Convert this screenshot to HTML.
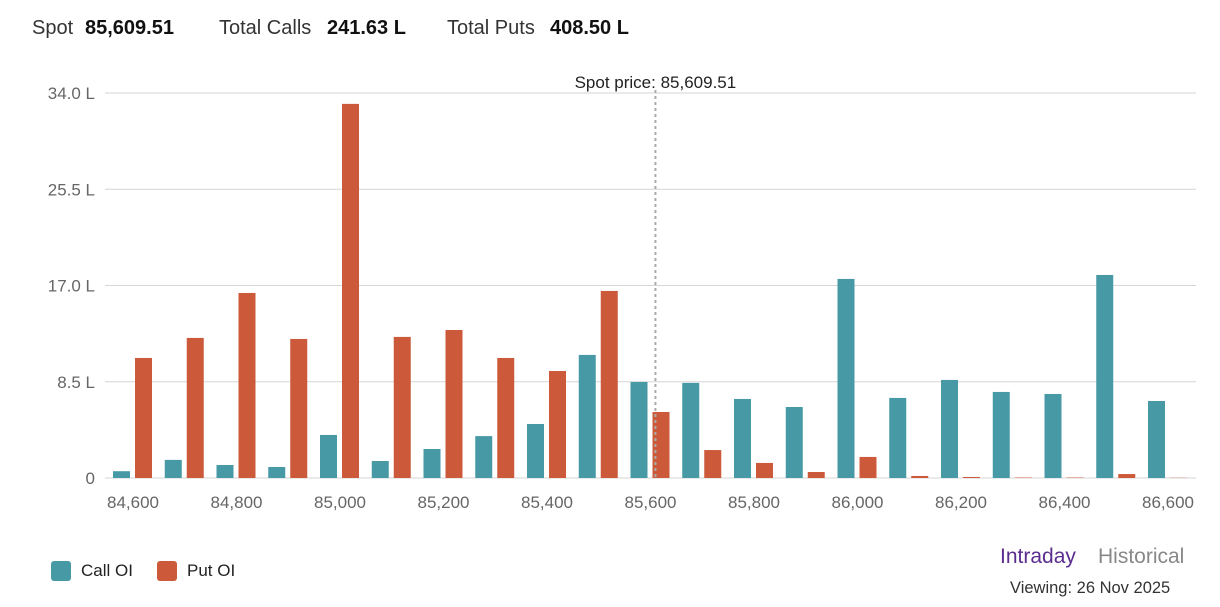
<!DOCTYPE html>
<html><head><meta charset="utf-8"><style>
body{margin:0;width:1220px;height:607px;background:#fff;font-family:"Liberation Sans",sans-serif;overflow:hidden;position:relative}
.h{position:absolute;top:17px;font-size:20px;color:#333;white-space:nowrap}
.h b{color:#111}
.leg{position:absolute;top:561px;font-size:17px;color:#222;display:flex;align-items:center}
.sw{width:20px;height:20px;border-radius:3px;margin-right:10px}
</style></head><body>
<div>
<div class="h" style="left:32px">Spot</div>
<div class="h" style="left:85px"><b>85,609.51</b></div>
<div class="h" style="left:219px">Total Calls</div>
<div class="h" style="left:327px"><b>241.63 L</b></div>
<div class="h" style="left:447px">Total Puts</div>
<div class="h" style="left:550px"><b>408.50 L</b></div>
</div>
<svg id="chart" width="1220" height="607" style="position:absolute;left:0;top:0"></svg>
<div class="leg" style="left:51px"><div class="sw" style="background:#4799a5"></div>Call OI</div>
<div class="leg" style="left:157px"><div class="sw" style="background:#cc5a3a"></div>Put OI</div>
<div style="position:absolute;left:1000px;top:545px;font-size:21px;color:#5b2d8e">Intraday</div>
<div style="position:absolute;left:1098px;top:545px;font-size:21px;color:#888">Historical</div>
<div style="position:absolute;left:1010px;top:579px;font-size:16.5px;color:#333">Viewing: 26 Nov 2025</div>
<script>
const strikes=[84600,84700,84800,84900,85000,85100,85200,85300,85400,85500,85600,85700,85800,85900,86000,86100,86200,86300,86400,86500,86600];
const callOI=[0.6,1.6,1.15,0.97,3.8,1.5,2.56,3.7,4.77,10.87,8.48,8.4,6.98,6.27,17.58,7.07,8.66,7.6,7.42,17.93,6.8];
const putOI=[10.6,12.37,16.34,12.28,33.04,12.46,13.07,10.6,9.45,16.52,5.83,2.47,1.33,0.53,1.86,0.18,0.09,0.04,0.04,0.35,0.02];
const yTicks=[0,8.5,17,25.5,34];
const yTickLabels=["0","8.5 L","17.0 L","25.5 L","34.0 L"];
const xTicks=[84600,84800,85000,85200,85400,85600,85800,86000,86200,86400,86600];
const spot=85609.51;
const svg=document.getElementById('chart');const NS='http://www.w3.org/2000/svg';
const x=v=>133+(v-84600)/100*51.75;
const y=v=>478-v*(385/34);
function mk(t,a,p){const e=document.createElementNS(NS,t);for(const k in a)e.setAttribute(k,a[k]);(p||svg).appendChild(e);return e;}
yTicks.forEach((t,i)=>{
 const g=mk('line',{x1:105,x2:1196,y1:y(t),y2:y(t),stroke:'#d6d6d6','stroke-width':1});
 
 
 const l=mk('text',{x:95,y:y(t)+6,'text-anchor':'end','font-size':17,fill:'#666'});l.textContent=yTickLabels[i];
 
 
});
xTicks.forEach(t=>{
 const l=mk('text',{x:x(t),y:508,'text-anchor':'middle','font-size':17,fill:'#666'});l.textContent=t.toLocaleString('en-US');
 
 
});
strikes.forEach((s,i)=>{
 const c=mk('rect',{x:x(s)-20,y:y(callOI[i]),width:17,height:y(0)-y(callOI[i]),fill:'#4799a5'});
 
 
 const p=mk('rect',{x:x(s)+2,y:y(putOI[i]),width:17,height:y(0)-y(putOI[i]),fill:'#cc5a3a'});
 
 
});
const sl=mk('line',{x1:x(spot),x2:x(spot),y1:90,y2:478,stroke:'#aaa','stroke-width':2,'stroke-dasharray':'3,3'});


const st=mk('text',{x:x(spot),y:88,'text-anchor':'middle','font-size':17,fill:'#222'});st.textContent='Spot price: 85,609.51';


</script>
</body></html>
